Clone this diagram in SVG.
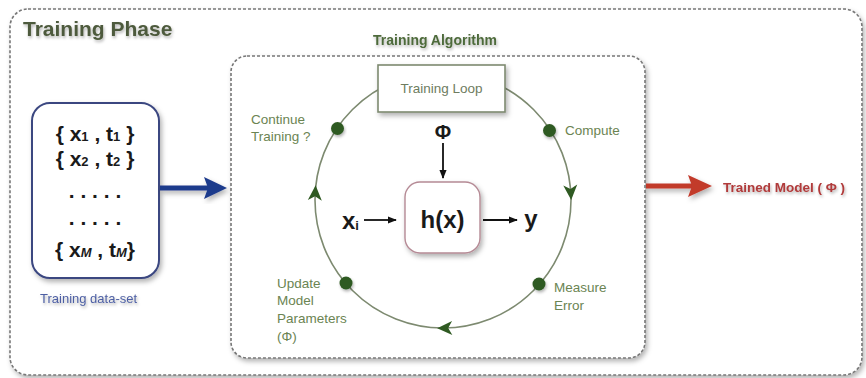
<svg xmlns="http://www.w3.org/2000/svg" width="866" height="378" viewBox="0 0 866 378">
<style>
.dash{fill:#fff;stroke:#777;stroke-width:1.6;stroke-dasharray:3 2}
.lbl{font-family:"Liberation Sans",Arial,sans-serif;font-size:13.5px;fill:#6b8452}
.math{font-family:"Liberation Sans",Arial,sans-serif;font-weight:bold;fill:#1a1a1a}
.ring{fill:none;stroke:#7d8a70;stroke-width:1.6}
.dot{fill:#2f5a22}
.ahead{fill:#2f5a22}
.blk{stroke:#111;stroke-width:1.8;fill:none}
</style>
<defs>
<filter id="sh" x="-10%" y="-10%" width="130%" height="130%">
<feDropShadow dx="2" dy="3" stdDeviation="2.5" flood-color="#000" flood-opacity="0.3"/>
</filter>
<filter id="tsh" x="-10%" y="-30%" width="130%" height="170%">
<feDropShadow dx="1" dy="2" stdDeviation="1.5" flood-color="#000" flood-opacity="0.3"/>
</filter>
<marker id="blkArrow" viewBox="0 0 10 10" refX="9" refY="5" markerWidth="9" markerHeight="9" orient="auto" markerUnits="userSpaceOnUse">
<path d="M0,1 L10,5 L0,9 Z" fill="#111"/>
</marker>
<path id="chev" d="M8,0 L-7,-7 L-3,0 L-7,7 Z"/>
</defs>
<rect width="866" height="378" fill="#fff"/>

<g id="training-phase">
<rect class="dash" x="10" y="9" width="852" height="366" rx="18" filter="url(#sh)"/>
<text x="23" y="36" font-family="Liberation Sans,Arial,sans-serif" font-weight="bold" font-size="21" fill="#4d5a3c" filter="url(#tsh)">Training Phase</text>
</g>

<g id="training-algorithm">
<rect class="dash" x="231" y="56" width="414" height="302" rx="16" filter="url(#sh)"/>
<text x="435" y="45" text-anchor="middle" font-family="Liberation Sans,Arial,sans-serif" font-weight="bold" font-size="14" fill="#4d6a3a" filter="url(#tsh)">Training Algorithm</text>
</g>

<g id="loop-ring">
<circle class="ring" cx="443" cy="200" r="128"/>
<use href="#chev" class="ahead" transform="translate(570.7,192) rotate(86.4)"/>
<use href="#chev" class="ahead" transform="translate(445.2,328) rotate(179)"/>
<use href="#chev" class="ahead" transform="translate(315.2,193.3) rotate(-87)"/>
</g>

<g id="training-loop">
<rect x="378" y="65" width="127" height="47" fill="#fff" stroke="#7d8a70" stroke-width="1.6" filter="url(#sh)"/>
<text x="441.5" y="93" text-anchor="middle" class="lbl" style="fill:#6e7c60">Training Loop</text>
</g>

<g id="continue-training">
<circle class="dot" cx="337.5" cy="128.5" r="6.5" filter="url(#tsh)"/>
<text class="lbl"><tspan x="251" y="124">Continue</tspan><tspan x="251" y="141">Training ?</tspan></text>
</g>

<g id="compute">
<circle class="dot" cx="549.5" cy="130.5" r="6.5" filter="url(#tsh)"/>
<text class="lbl" x="565" y="135">Compute</text>
</g>

<g id="measure-error">
<circle class="dot" cx="539" cy="284" r="6.5" filter="url(#tsh)"/>
<text class="lbl"><tspan x="554" y="292">Measure</tspan><tspan x="554" y="310">Error</tspan></text>
</g>

<g id="update-model">
<circle class="dot" cx="346" cy="283" r="6.5" filter="url(#tsh)"/>
<text class="lbl"><tspan x="277" y="288">Update</tspan><tspan x="277" y="305">Model</tspan><tspan x="277" y="323">Parameters</tspan><tspan x="277" y="341">(Φ)</tspan></text>
</g>

<g id="hx">
<rect x="405" y="182" width="75" height="71" rx="15" fill="#fff" stroke="#b58a95" stroke-width="1.4" filter="url(#sh)"/>
<text x="442.5" y="228" text-anchor="middle" class="math" font-size="24">h(x)</text>
</g>

<g id="phi">
<text x="443" y="139" text-anchor="middle" class="math" font-size="20">Φ</text>
</g>
<g id="xi">
<text x="342" y="229" class="math" font-size="24">x<tspan font-size="13" dy="1">i</tspan></text>
</g>
<g id="y">
<text x="531" y="227" text-anchor="middle" class="math" font-size="24">y</text>
</g>

<g id="dataset">
<rect x="32" y="103" width="127" height="175" rx="18" fill="#fff" stroke="#3a4680" stroke-width="2" filter="url(#sh)"/>
<g class="math" font-size="21" text-anchor="middle">
<text x="95" y="141">{ x<tspan font-size="13">1</tspan> , t<tspan font-size="13">1</tspan> }</text>
<text x="95" y="166">{ x<tspan font-size="13">2</tspan> , t<tspan font-size="13">2</tspan> }</text>
<text x="95" y="198">. . . . .</text>
<text x="95" y="225">. . . . .</text>
<text x="95" y="257">{ x<tspan font-size="13" font-style="italic">M</tspan> , t<tspan font-size="13" font-style="italic">M</tspan>}</text>
</g>
<text x="40" y="303" font-family="Liberation Sans,Arial,sans-serif" font-size="13" fill="#4d5fa3" filter="url(#tsh)">Training data-set</text>
</g>

<g id="trained-model">
<text x="723" y="192" font-family="Liberation Sans,Arial,sans-serif" font-weight="bold" font-size="13.5" fill="#b03a3a" filter="url(#tsh)">Trained Model ( Φ )</text>
</g>

<g id="connectors">
<line class="blk" x1="443" y1="143" x2="443" y2="178" marker-end="url(#blkArrow)"/>
<line class="blk" x1="364" y1="220" x2="396" y2="220" marker-end="url(#blkArrow)"/>
<line class="blk" x1="483" y1="220" x2="517" y2="220" marker-end="url(#blkArrow)"/>
<g filter="url(#sh)">
<path d="M160,188 H208" stroke="#1f3b8c" stroke-width="5" fill="none"/>
<path d="M204,177 L227,188 L204,199 L208,188 Z" fill="#1f3b8c"/>
<path d="M646,186 H692" stroke="#c23a2c" stroke-width="5" fill="none"/>
<path d="M688,175 L712,186 L688,197 L692,186 Z" fill="#c23a2c"/>
</g>
</g>
</svg>
